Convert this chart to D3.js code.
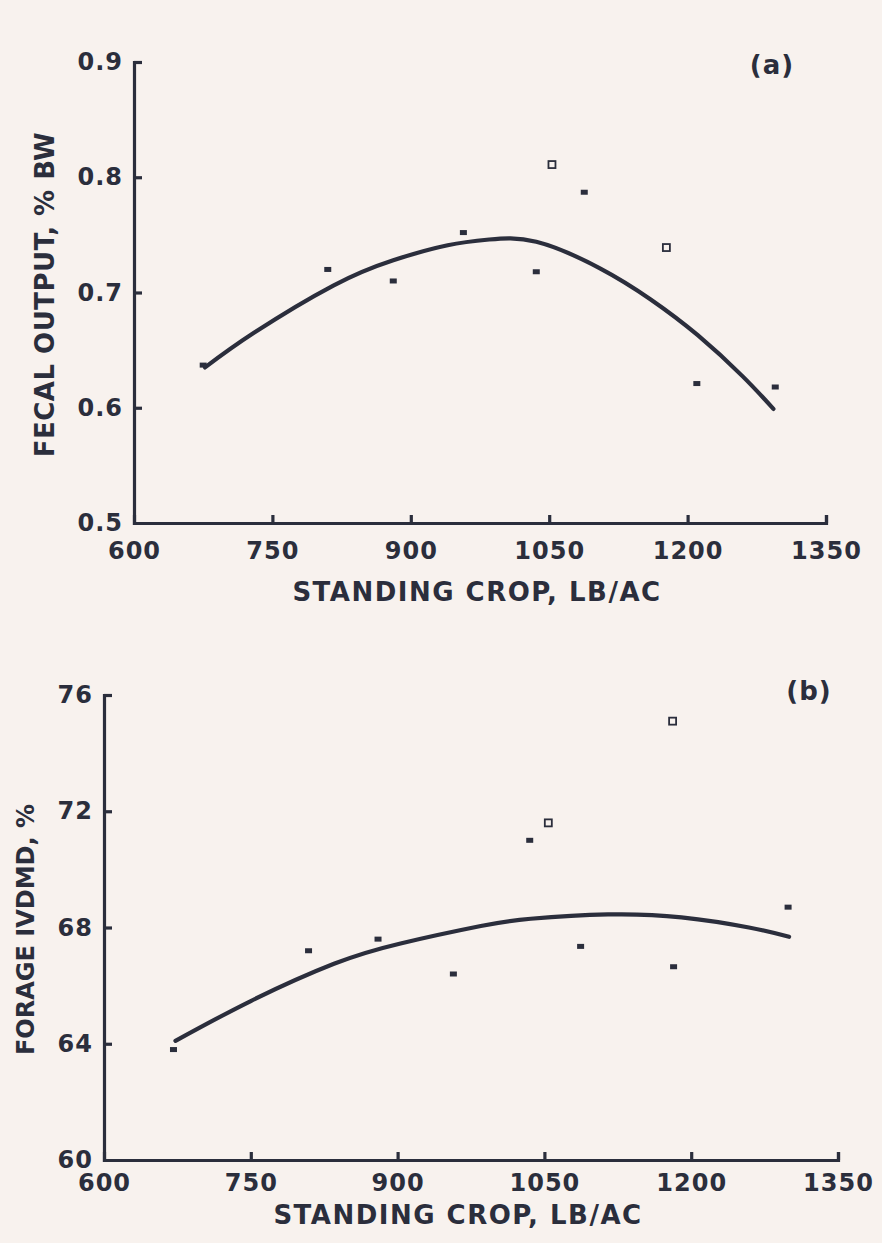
<!DOCTYPE html>
<html>
<head>
<meta charset="utf-8">
<script src="https://cdn.jsdelivr.net/npm/d3@7"></script>
<style>
  html, body { margin: 0; padding: 0; background: #f8f2ee; }
  svg { display: block; }
  .tick text, .lbl { font-family: "DejaVu Sans", sans-serif; font-weight: bold; fill: #2b2e3c; }
</style>
</head>
<body>
<svg id="chart" width="882" height="1243"></svg>
<script>
// ── Shared x axis ──
const cropTicks = [600, 750, 900, 1050, 1200, 1350];

// ── Panel (a): fecal output, % BW ──
const fecalTicks = [0.5, 0.6, 0.7, 0.8, 0.9];
const fecalFilled = [
  [675, 0.637], [810, 0.720], [881, 0.710], [957, 0.752], [1036, 0.718],
  [1088, 0.787], [1210, 0.621], [1295, 0.618]
];
const fecalOpen = [[1053, 0.811], [1177, 0.739]];
// fitted curve
const fecalCurve = [
  [677, 0.635], [730, 0.665], [816, 0.706], [881, 0.728], [940, 0.741],
  [985, 0.746], [1036, 0.744], [1105, 0.721], [1160, 0.694], [1211, 0.663],
  [1260, 0.627], [1293, 0.599]
];

// ── Panel (b): forage IVDMD, % ──
const ivdmdTicks = [60, 64, 68, 72, 76];
const ivdmdFilled = [
  [671, 63.8], [809, 67.2], [880, 67.6], [957, 66.4], [1035, 71.0],
  [1087, 67.35], [1182, 66.65], [1299, 68.7]
];
const ivdmdOpen = [[1054, 71.6], [1181, 75.1]];
const ivdmdCurve = [
  [673, 64.1], [750, 65.47], [835, 66.75], [903, 67.45], [985, 68.05],
  [1036, 68.3], [1115, 68.45], [1190, 68.35], [1259, 68.0], [1300, 67.68]
];

const ink = "#2b2e3c";
const svg = d3.select("#chart");

const panels = [
  {
    tag: "(a)", ticks: fecalTicks, fmt: d3.format(".1f"),
    filled: fecalFilled, open: fecalOpen, curve: fecalCurve,
    yTitle: "FECAL OUTPUT, % BW", yTitleSize: 26, yTitleSpacing: 0.5,
    x0: 134, x1: 826, yTop: 62, yBot: 523,
    titleX: 45, xTitleX: 477, xPad: 14, xTitleDy: 78,
    tagPos: [772, 74]
  },
  {
    tag: "(b)", ticks: ivdmdTicks, fmt: d3.format("d"),
    filled: ivdmdFilled, open: ivdmdOpen, curve: ivdmdCurve,
    yTitle: "FORAGE IVDMD, %", yTitleSize: 24, yTitleSpacing: 0,
    x0: 104, x1: 838, yTop: 695, yBot: 1160,
    titleX: 26, xTitleX: 458, xPad: 9, xTitleDy: 64,
    tagPos: [809, 700]
  }
];

panels.forEach(p => {
  const x = d3.scaleLinear().domain([600, 1350]).range([p.x0, p.x1]);
  const y = d3.scaleLinear().domain(d3.extent(p.ticks)).range([p.yBot, p.yTop]);
  const g = svg.append("g");

  // x axis, ticks pointing inward
  const gx = g.append("g")
    .attr("transform", `translate(0,${p.yBot})`)
    .call(d3.axisBottom(x).tickValues(cropTicks).tickFormat(d3.format("d"))
      .tickSize(-8).tickSizeOuter(-8).tickPadding(p.xPad));

  const gy = g.append("g")
    .attr("transform", `translate(${p.x0},0)`)
    .call(d3.axisLeft(y).tickValues(p.ticks).tickFormat(p.fmt)
      .tickSize(-8).tickSizeOuter(-8).tickPadding(11));

  [gx, gy].forEach(a => {
    a.selectAll("path.domain, line").attr("stroke", ink).attr("stroke-width", 3.2);
    a.selectAll("text").attr("font-size", 24).attr("fill", ink)
      .attr("letter-spacing", 1);
  });
  gx.selectAll(".tick text").attr("dy", "0.9em");
  gx.selectAll(".tick").filter(d => d === 600).select("line").remove();
  gy.selectAll(".tick").filter((d, i) => i === 0).select("line").remove();

  // axis titles
  g.append("text").attr("class", "lbl")
    .attr("x", p.xTitleX).attr("y", p.yBot + p.xTitleDy)
    .attr("text-anchor", "middle").attr("font-size", 26)
    .attr("letter-spacing", 1.5)
    .text("STANDING CROP, LB/AC");

  g.append("text").attr("class", "lbl")
    .attr("transform", `translate(${p.titleX},${(p.yTop + p.yBot) / 2 + 2}) rotate(-90)`)
    .attr("text-anchor", "middle").attr("dy", "0.35em")
    .attr("font-size", p.yTitleSize).attr("letter-spacing", p.yTitleSpacing)
    .text(p.yTitle);

  g.append("text").attr("class", "lbl")
    .attr("x", p.tagPos[0]).attr("y", p.tagPos[1])
    .attr("text-anchor", "middle").attr("font-size", 26)
    .attr("letter-spacing", 1)
    .text(p.tag);

  // fitted curve
  g.append("path")
    .datum(p.curve)
    .attr("fill", "none")
    .attr("stroke", ink)
    .attr("stroke-width", 4.2)
    .attr("stroke-linecap", "round")
    .attr("d", d3.line().x(d => x(d[0])).y(d => y(d[1])).curve(d3.curveNatural));

  // observed points: filled bars and open squares
  g.selectAll(".filled").data(p.filled).join("rect")
    .attr("x", d => x(d[0]) - 3.5).attr("y", d => y(d[1]) - 2.5)
    .attr("width", 7).attr("height", 5)
    .attr("fill", ink);

  g.selectAll(".open").data(p.open).join("rect")
    .attr("x", d => x(d[0]) - 3.5).attr("y", d => y(d[1]) - 3.5)
    .attr("width", 7).attr("height", 7)
    .attr("fill", "none").attr("stroke", ink).attr("stroke-width", 1.8);
});
</script>
</body>
</html>
